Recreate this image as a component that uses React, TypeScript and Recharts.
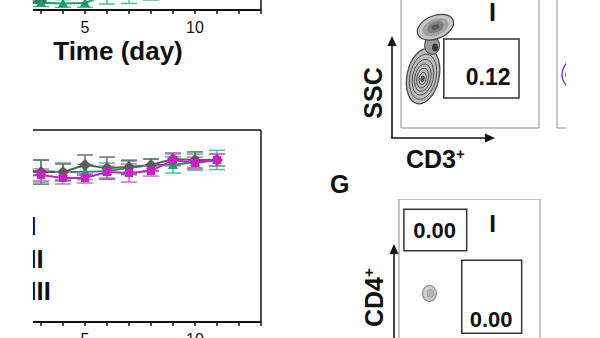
import React from 'react';
import {
  LineChart, Line, XAxis, YAxis, ErrorBar, ReferenceLine, Label,
  ScatterChart, Scatter, ReferenceArea,
} from 'recharts';

// lower time course (days 2-11), three groups
const days = [2, 3, 4, 5, 6, 7, 8, 9, 10, 11];
const grayMean = [78.1, 78.1, 78.1, 81.8, 80.2, 80.7, 81.8, 84.9, 84.4, 84.4];
const grayErr = [5, 6.3, 4.2, 5.2, 5.7, 3.6, 3.1, 3.1, 4.2, 3.1];
const greenMean = [78.6, 78.6, 78.1, 78.1, 78.6, 80.2, 81.8, 81.8, 83.3, 84.4];
const greenErr = [5, 5.7, 4.7, 4, 4.2, 3.6, 3.1, 4.2, 4.2, 5];
const magentaMean = [76, 76.6, 75, 75, 78.1, 77.6, 78.6, 84.4, 82.8, 84.4];
const magentaErr = [3, 3.1, 3.1, 2.6, 3.1, 4.7, 2.6, 3.1, 3.1, 3.1];

// upper time course, only its bottom edge is in frame
const upperDays = [2, 3, 4, 5, 6, 7, 8];
const upperGreen = [3.6, 3.8, 3.4, 3.6, 8.3, 8.1, 10.4];
const upperGreenErr = [2, 2, 2, 2.2, 5.2, 4.7, 5.2];
const upperGrayDays = [2, 3, 4];
const upperGray = [4.2, 4.7, 8.3];

const dayTicks = [0, 1, 2, 3, 4, 5, 6, 7, 8, 9, 10, 11, 12, 13];
const groupLabels = ['I', 'II', 'III'];

// flow panels, both axes 0-100
const cd3Gate = { x1: 31, x2: 85.5, y1: 21.5, y2: 63.5 };
const cd3Freq = '0.12';
const cd3Lymph = [{ x: 16, y: 37 }];
const cd3Granulo = [{ x: 25, y: 72 }];
const cd3Neck = [{ x: 22.5, y: 59 }];
const nextLymph = [{ x: 16.7, y: 38 }];
const cd4Gates = [
  { x1: 3.5, x2: 48, y1: 64.5, y2: 93 },
  { x1: 44.5, x2: 87, y1: 8, y2: 58 },
];
const cd4Freqs = ['0.00', '0.00'];
const cd4Events = [{ x: 21.6, y: 35.3 }];
const flowXTicks = [3, 13, 20, 26, 44, 57, 79, 91];
const flowYTicks = [9, 21, 34, 61, 90];
const cd4YTicks = [14, 34, 53, 77];

const GREEN = '#1e9b6b';
const GREEN_ERR = '#48c091';
const MAGENTA = '#c81fc8';
const MAGENTA_ERR = '#d866d8';
const GRAY = '#5c5c5c';
const GRAY_ERR = '#707070';
const INK = '#111';

const lowerRows = days.map((day, i) => ({
  day,
  gray: grayMean[i], grayErr: grayErr[i],
  green: greenMean[i], greenErr: greenErr[i],
  magenta: magentaMean[i], magentaErr: magentaErr[i],
}));
const upperGreenRows = upperDays.map((day, i) => ({ day, green: upperGreen[i], greenErr: upperGreenErr[i] }));
const upperGrayRows = upperGrayDays.map((day, i) => ({ day, gray: upperGray[i] }));

const dayFmt = (v: number) => (v % 5 === 0 ? String(v) : '');

const squareDot = (color: string) => (p: any) => {
  if (p.cx == null) return <g key={p.index} />;
  return <rect key={p.index} x={p.cx - 4} y={p.cy - 4} width={8} height={8} fill={color} />;
};
const triDot = (color: string) => (p: any) => {
  if (p.cx == null) return <g key={p.index} />;
  const { cx, cy } = p;
  return <path key={p.index} d={`M${cx},${cy - 5}L${cx + 5},${cy + 4}L${cx - 5},${cy + 4}Z`} fill={color} />;
};
const diamondDot = (color: string) => (p: any) => {
  if (p.cx == null) return <g key={p.index} />;
  const { cx, cy } = p;
  return <path key={p.index} d={`M${cx},${cy - 6}L${cx + 6},${cy}L${cx},${cy + 6}L${cx - 6},${cy}Z`} fill={color} />;
};

const timeAxis = () => (
  <XAxis
    type="number"
    dataKey="day"
    domain={[0, 13]}
    ticks={dayTicks}
    interval={0}
    tickFormatter={dayFmt}
    height={60}
    tickSize={4}
    tickMargin={8}
    tick={{ fontSize: 16, fill: INK }}
    axisLine={{ stroke: INK, strokeWidth: 1.8 }}
    tickLine={{ stroke: INK, strokeWidth: 1.5 }}
  >
    <Label value="Time (day)" position="insideBottom" offset={10} fontSize={26} fontWeight="bold" fill={INK} />
  </XAxis>
);

// contour shapes for the flow plots
const LymphCloud = (p: any) => {
  const rings = [1, 0.82, 0.65, 0.5, 0.36, 0.22, 0.1];
  return (
    <g transform={`translate(${p.cx},${p.cy}) rotate(12)`}>
      {rings.map((k, i) => (
        <ellipse key={i} cx={0} cy={3 * (1 - k)} rx={16 * k} ry={28 * k}
          fill={i === 0 ? '#bdbdbd' : i === rings.length - 1 ? '#555' : 'none'}
          stroke="#4a4a4a" strokeWidth={i === 0 ? 1.3 : 0.9} />
      ))}
    </g>
  );
};
const GranuloCloud = (p: any) => {
  const rings = [1, 0.72, 0.46, 0.22];
  const fills = ['#c6c6c6', '#a2a2a2', '#7e7e7e', '#5a5a5a'];
  return (
    <g transform={`translate(${p.cx},${p.cy}) rotate(-22)`}>
      {rings.map((k, i) => (
        <ellipse key={i} cx={0} cy={0} rx={19 * k} ry={11.5 * k} fill={fills[i]}
          stroke={i === 0 ? '#444' : 'none'} strokeWidth={1.2} />
      ))}
    </g>
  );
};
const NeckCloud = (p: any) => (
  <g>
    <ellipse cx={p.cx} cy={p.cy} rx={7.5} ry={9} fill="#9a9a9a" stroke="#444" strokeWidth={1} />
    <ellipse cx={p.cx + 3} cy={p.cy + 2} rx={3} ry={4} fill="#3a3a3a" />
  </g>
);
const PurpleCloud = (p: any) => (
  <g transform={`translate(${p.cx},${p.cy}) rotate(12)`}>
    {[1, 0.78, 0.55].map((k, i) => (
      <ellipse key={i} cx={0} cy={0} rx={18 * k} ry={17 * k} fill="none" stroke="#8a2be2" strokeWidth={1.4} />
    ))}
  </g>
);
const EventDot = (p: any) => (
  <g>
    <ellipse cx={p.cx} cy={p.cy} rx={7} ry={8} fill="#cfcfcf" stroke="#8c8c8c" strokeWidth={1.2} />
    <ellipse cx={p.cx + 1} cy={p.cy} rx={3.5} ry={4} fill="#b3b3b3" stroke="#999" strokeWidth={0.8} />
  </g>
);

const gateText = (text: string, fx: number, fy: number, size: number) => (props: any) => {
  const vb = props.viewBox || {};
  return (
    <text x={vb.x + vb.width * fx} y={vb.y + vb.height * fy} textAnchor="middle"
      fontSize={size} fontWeight="bold" fill={INK}>{text}</text>
  );
};

const flowAxes = (yTicks: number[]) => [
  <XAxis key="x" type="number" dataKey="x" domain={[0, 100]} ticks={flowXTicks} interval={0}
    height={0} tick={false} axisLine={false} tickSize={3} tickLine={{ stroke: '#777' }} />,
  <YAxis key="y" type="number" dataKey="y" domain={[0, 100]} ticks={yTicks} interval={0}
    width={0} tick={false} axisLine={false} tickSize={3} tickLine={{ stroke: '#777' }} />,
  <ReferenceArea key="box" x1={0} x2={100} y1={0} y2={100} fill="none" fillOpacity={0} stroke="#8c8c8c" strokeWidth={1} />,
];

const abs = (left: number, top: number): React.CSSProperties => ({ position: 'absolute', left, top });
const mask = (left: number, width: number): React.CSSProperties => ({
  position: 'absolute', left, top: 0, width, height: 338, background: '#fff',
});

export default function App() {
  return (
    <div style={{
      position: 'absolute', left: 0, top: 0, width: 600, height: 338, overflow: 'hidden',
      background: '#fff', fontFamily: '"Liberation Sans", Arial, sans-serif',
    }}>
      {/* upper time course */}
      <div style={abs(-60, -202)}>
        <LineChart width={341} height={272} margin={{ top: 20, right: 20, bottom: 0, left: 35 }}>
          {timeAxis()}
          <YAxis hide domain={[0, 100]} />
          <ReferenceLine x={13} stroke={INK} strokeWidth={1.5} />
          <Line data={upperGrayRows} dataKey="gray" stroke={GRAY} strokeWidth={2}
            dot={diamondDot(GRAY)} isAnimationActive={false} />
          <Line data={upperGreenRows} dataKey="green" stroke={GREEN} strokeWidth={2}
            dot={triDot(GREEN)} isAnimationActive={false}>
            <ErrorBar dataKey="greenErr" width={8} stroke={GREEN_ERR} strokeWidth={1.5} direction="y" />
          </Line>
        </LineChart>
      </div>

      {/* lower time course */}
      <div style={abs(-60, 110)}>
        <LineChart width={341} height={272} data={lowerRows} margin={{ top: 20, right: 20, bottom: 0, left: 35 }}>
          {timeAxis()}
          <YAxis hide domain={[0, 100]} />
          <ReferenceLine y={100} stroke={INK} strokeWidth={1.5} />
          <ReferenceLine x={13} stroke={INK} strokeWidth={1.5} />
          <Line dataKey="green" stroke={GREEN} strokeWidth={2} dot={triDot(GREEN)} isAnimationActive={false}>
            <ErrorBar dataKey="greenErr" width={8} stroke={GREEN_ERR} strokeWidth={1.5} direction="y" />
          </Line>
          <Line dataKey="gray" stroke={GRAY} strokeWidth={2} dot={diamondDot(GRAY)} isAnimationActive={false}>
            <ErrorBar dataKey="grayErr" width={8} stroke={GRAY_ERR} strokeWidth={1.5} direction="y" />
          </Line>
          <Line dataKey="magenta" stroke={MAGENTA} strokeWidth={2} dot={squareDot(MAGENTA)} isAnimationActive={false}>
            <ErrorBar dataKey="magentaErr" width={8} stroke={MAGENTA_ERR} strokeWidth={1.5} direction="y" />
          </Line>
        </LineChart>
      </div>

      {/* CD3 vs SSC, group I */}
      <div style={abs(395, -12)}>
        <ScatterChart width={145} height={146} margin={{ top: 0, right: 1, bottom: 6, left: 6 }}>
          {flowAxes(flowYTicks)}
          <Scatter data={cd3Lymph} shape={LymphCloud} isAnimationActive={false} />
          <Scatter data={cd3Neck} shape={NeckCloud} isAnimationActive={false} />
          <Scatter data={cd3Granulo} shape={GranuloCloud} isAnimationActive={false} />
          <ReferenceArea {...cd3Gate} fill="none" fillOpacity={0} stroke="#333" strokeWidth={1.5}>
            <Label content={gateText(cd3Freq, 0.59, 0.78, 23)} />
          </ReferenceArea>
        </ScatterChart>
      </div>

      {/* next CD3 panel, cut at the edge */}
      <div style={abs(551, -12)}>
        <ScatterChart width={146} height={146} margin={{ top: 0, right: 2, bottom: 6, left: 6 }}>
          {flowAxes(flowYTicks)}
          <Scatter data={nextLymph} shape={PurpleCloud} isAnimationActive={false} />
        </ScatterChart>
      </div>

      {/* CD4, group I */}
      <div style={abs(393, 199)}>
        <ScatterChart width={148} height={152} margin={{ top: 0, right: 1, bottom: 6, left: 6 }}>
          {flowAxes(cd4YTicks)}
          <Scatter data={cd4Events} shape={EventDot} isAnimationActive={false} />
          <ReferenceArea {...cd4Gates[0]} fill="none" fillOpacity={0} stroke="#333" strokeWidth={1.5}>
            <Label content={gateText(cd4Freqs[0], 0.49, 0.69, 22)} />
          </ReferenceArea>
          <ReferenceArea {...cd4Gates[1]} fill="none" fillOpacity={0} stroke="#333" strokeWidth={1.5}>
            <Label content={gateText(cd4Freqs[1], 0.49, 0.92, 22)} />
          </ReferenceArea>
        </ScatterChart>
      </div>

      {/* next CD4 panel, cut at the edge */}
      <div style={abs(552, 199)}>
        <ScatterChart width={149} height={152} margin={{ top: 0, right: 2, bottom: 6, left: 6 }}>
          {flowAxes(cd4YTicks)}
          <ReferenceArea {...cd4Gates[0]} fill="none" fillOpacity={0} stroke="#333" strokeWidth={1.5} />
          <ReferenceArea {...cd4Gates[1]} fill="none" fillOpacity={0} stroke="#333" strokeWidth={1.5} />
        </ScatterChart>
      </div>

      {/* titles, axis arrows, group labels */}
      <svg width={600} height={338} style={abs(0, 0)}>
        <g fontWeight="bold" fill={INK}>
          {groupLabels.map((t, i) => (
            <text key={t} x={29.5} y={235 + i * 32.5} fontSize={25.5}>{t}</text>
          ))}
          <text x={330} y={193} fontSize={25}>G</text>
          <text x={492.5} y={21} fontSize={25} textAnchor="middle">I</text>
          <text x={492.5} y={232} fontSize={24} textAnchor="middle">I</text>
          <text transform="translate(373,93) rotate(-90)" textAnchor="middle" dy="0.36em" fontSize={25}>SSC</text>
          <text x={406} y={168} fontSize={25}>CD3<tspan fontSize={15} dy={-9}>+</tspan></text>
          <text transform="translate(383,327) rotate(-90)" fontSize={25}>CD4<tspan fontSize={15} dy={-9}>+</tspan></text>
        </g>
        <g stroke={INK} strokeWidth={1.6} fill="none">
          <line x1={392} y1={138} x2={392} y2={44} />
          <line x1={391} y1={138} x2={486} y2={138} />
          <line x1={394} y1={345} x2={394} y2={252} />
        </g>
        <g fill={INK}>
          <path d="M392,36L387.5,46L396.5,46Z" />
          <path d="M495,138L485,133.5L485,142.5Z" />
          <path d="M394,244L389.5,254L398.5,254Z" />
        </g>
      </svg>

      {/* the figure is trimmed on both sides */}
      <div style={mask(0, 33)} />
      <div style={mask(566, 34)} />
    </div>
  );
}
